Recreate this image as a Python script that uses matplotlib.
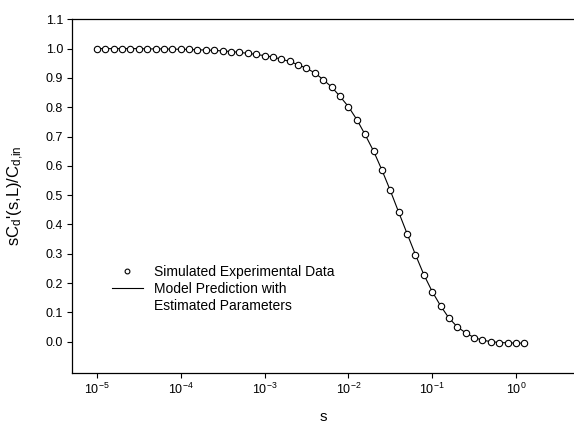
import matplotlib
matplotlib.use("Agg")
import matplotlib.pyplot as plt
from matplotlib.lines import Line2D
from matplotlib.ticker import FixedLocator, NullLocator, FormatStrFormatter

plt.rcParams['font.family'] = 'Liberation Sans'
plt.rcParams['mathtext.fontset'] = 'custom'
plt.rcParams['mathtext.rm'] = 'Liberation Sans'
plt.rcParams['mathtext.it'] = 'Liberation Sans:italic'
plt.rcParams['mathtext.default'] = 'regular'
plt.rcParams['axes.unicode_minus'] = False

# s values (log spaced)
s = [1.00e-05, 1.26e-05, 1.58e-05, 2.00e-05, 2.51e-05, 3.16e-05, 3.98e-05, 5.01e-05, 6.31e-05, 7.94e-05,
     1.00e-04, 1.26e-04, 1.58e-04, 2.00e-04, 2.51e-04, 3.16e-04, 3.98e-04, 5.01e-04, 6.31e-04, 7.94e-04,
     1.00e-03, 1.26e-03, 1.58e-03, 2.00e-03, 2.51e-03, 3.16e-03, 3.98e-03, 5.01e-03, 6.31e-03, 7.94e-03,
     1.00e-02, 1.26e-02, 1.58e-02, 2.00e-02, 2.51e-02, 3.16e-02, 3.98e-02, 5.01e-02, 6.31e-02, 7.94e-02,
     1.00e-01, 1.26e-01, 1.58e-01, 2.00e-01, 2.51e-01, 3.16e-01, 3.98e-01, 5.01e-01, 6.31e-01, 7.94e-01,
     1.00e+00, 1.26e+00]

# simulated experimental data
sim_y = [1.000, 1.000, 1.000, 1.000, 1.000, 1.000, 0.999, 0.999, 0.999, 0.998,
         0.998, 0.997, 0.996, 0.995, 0.994, 0.992, 0.990, 0.987, 0.984, 0.980,
         0.976, 0.971, 0.964, 0.956, 0.945, 0.933, 0.917, 0.894, 0.869, 0.837,
         0.802, 0.758, 0.707, 0.650, 0.586, 0.516, 0.442, 0.369, 0.297, 0.229,
         0.171, 0.122, 0.081, 0.050, 0.030, 0.014, 0.005, 0.000, -0.003, -0.004,
         -0.005, -0.005]

# model prediction (passes through the data)
model_y = list(sim_y)

xticks = [1e-5, 1e-4, 1e-3, 1e-2, 1e-1, 1e0]
xtick_labels = ['$10^{-5}$', '$10^{-4}$', '$10^{-3}$', '$10^{-2}$', '$10^{-1}$', '$10^{0}$']
yticks = [0.0, 0.1, 0.2, 0.3, 0.4, 0.5, 0.6, 0.7, 0.8, 0.9, 1.0, 1.1]

fig = plt.figure(figsize=(5.74, 4.23), dpi=100)
ax = fig.add_axes([72/574, 1 - 373/423, 1 - 72/574, (373 - 19.3)/423])

line, = ax.plot(s, model_y, '-', color='black', lw=0.8, zorder=2)
pts, = ax.plot(s, sim_y, 'o', ms=4.6, mfc='white', mec='black', mew=0.8, zorder=3)

ax.set_xscale('log')
ax.set_xlim(5.04e-6, 4.92)
ax.set_ylim(-0.107, 1.1)
ax.xaxis.set_major_locator(FixedLocator(xticks))
ax.set_xticklabels(xtick_labels)
ax.xaxis.set_minor_locator(NullLocator())
ax.set_yticks(yticks)
ax.yaxis.set_major_formatter(FormatStrFormatter('%.1f'))
ax.tick_params(direction='out', length=3.5, width=0.8, labelsize=9, pad=3)

ax.spines['right'].set_visible(False)
for sp in ['left', 'bottom', 'top']:
    ax.spines[sp].set_linewidth(0.9)

ax.set_xlabel('s', fontsize=11)
ax.xaxis.set_label_coords(0.5, -0.105)
ax.set_ylabel("sC$_d$'(s,L)/C$_{d{,}in}$", fontsize=12)
ax.yaxis.set_label_coords(-0.092, 0.5)

blank = Line2D([], [], color='none')
leg = ax.legend([pts, line, blank],
                ['Simulated Experimental Data', 'Model Prediction with', 'Estimated Parameters'],
                loc='upper left',
                bbox_to_anchor=(112/574, 1 - 265/423), bbox_transform=fig.transFigure,
                frameon=False, fontsize=10, handlelength=2.2, handletextpad=0.8,
                borderpad=0, borderaxespad=0, labelspacing=0.2, numpoints=1,
                markerscale=0.75)

fig.savefig('out.png', dpi=100)
